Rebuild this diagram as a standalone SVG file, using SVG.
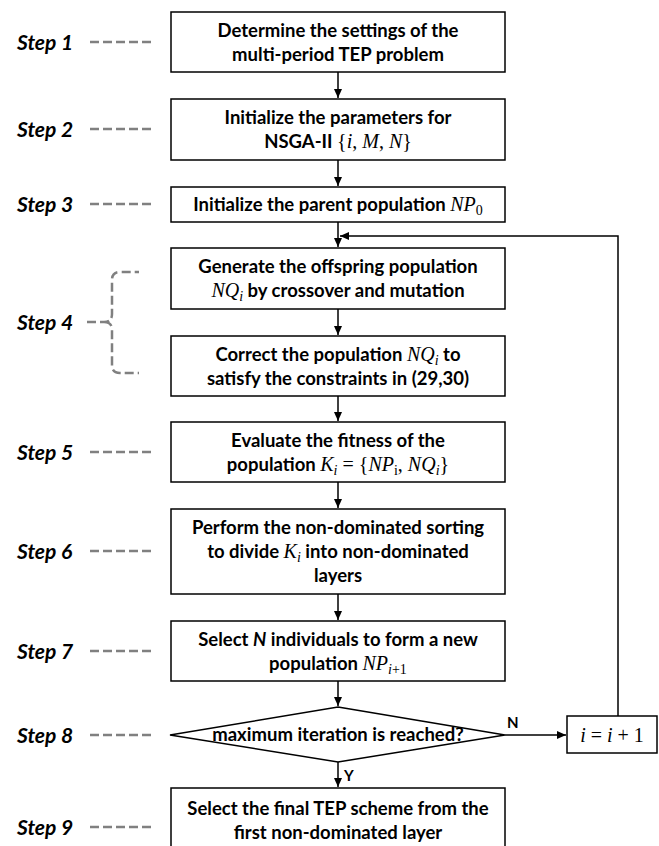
<svg xmlns="http://www.w3.org/2000/svg" width="659" height="846" viewBox="0 0 659 846">
<style>
.box{fill:#fff;stroke:#000;stroke-width:1.5}
.t{font-family:Lato,"Liberation Sans",sans-serif;font-weight:bold;font-size:18.5px;fill:#000;text-anchor:middle}
.m{font-family:"Liberation Serif",serif;font-style:italic;font-weight:normal;font-size:20px}
.r{font-family:"Liberation Serif",serif;font-style:normal;font-weight:normal;font-size:20px}
.s{font-family:"Liberation Serif",serif;font-weight:normal;font-size:14px}
.step{font-family:Lato,"Liberation Sans",sans-serif;font-weight:bold;font-style:italic;font-size:21px;fill:#000}
.dash{fill:none;stroke:#808080;stroke-width:2.5;stroke-dasharray:9 4}
.line{fill:none;stroke:#000;stroke-width:1.5}
.lbl{font-family:Lato,"Liberation Sans",sans-serif;font-weight:bold;font-size:15px;fill:#000}
</style>
<defs>
<marker id="ah" markerWidth="10" markerHeight="10" refX="9" refY="5" orient="auto" markerUnits="userSpaceOnUse">
<path d="M0,1 L9,5 L0,9 Z" fill="#000"/>
</marker>
</defs>

<g id="steps">
<text class="step" x="17" y="50">Step 1</text>
<text class="step" x="17" y="137">Step 2</text>
<text class="step" x="17" y="212">Step 3</text>
<text class="step" x="17" y="330">Step 4</text>
<text class="step" x="17" y="460">Step 5</text>
<text class="step" x="17" y="559">Step 6</text>
<text class="step" x="17" y="659">Step 7</text>
<text class="step" x="17" y="743">Step 8</text>
<text class="step" x="17" y="835">Step 9</text>
<path class="dash" d="M90,42 H155 M90,129 H155 M90,204 H155 M90,452 H155 M90,551 H155 M90,651 H155 M90,735 H155 M90,827 H155"/>
<path class="dash" d="M87,322 H104 Q112,322 112,314 V280 Q112,272 120,272 H139 M104,322 Q112,322 112,330 V365 Q112,373 120,373 H139"/>
</g>

<g id="connectors">
<path class="line" d="M338,72 V98" marker-end="url(#ah)"/>
<path class="line" d="M338,160 V186" marker-end="url(#ah)"/>
<path class="line" d="M338,222 V247" marker-end="url(#ah)"/>
<path class="line" d="M338,309 V335" marker-end="url(#ah)"/>
<path class="line" d="M338,396 V421" marker-end="url(#ah)"/>
<path class="line" d="M338,482 V508" marker-end="url(#ah)"/>
<path class="line" d="M338,594 V620" marker-end="url(#ah)"/>
<path class="line" d="M338,681 V706" marker-end="url(#ah)"/>
<path class="line" d="M338,762 V787" marker-end="url(#ah)"/>
<path class="line" d="M505,735 H566" marker-end="url(#ah)"/>
<path class="line" d="M618,716 V236 H340" marker-end="url(#ah)"/>
<text class="lbl" x="507" y="728">N</text>
<text class="lbl" x="344" y="781">Y</text>
</g>

<g id="n1"><rect class="box" x="171" y="12" width="334" height="60"/>
<text class="t" x="338" y="37">Determine the settings of the</text>
<text class="t" x="338" y="61">multi-period TEP problem</text></g>

<g id="n2"><rect class="box" x="171" y="99" width="334" height="61"/>
<text class="t" x="338" y="124">Initialize the parameters for</text>
<text class="t" x="338" y="148">NSGA-II <tspan class="r">{</tspan><tspan class="m">i</tspan><tspan class="r">, </tspan><tspan class="m">M</tspan><tspan class="r">, </tspan><tspan class="m">N</tspan><tspan class="r">}</tspan></text></g>

<g id="n3"><rect class="box" x="171" y="187" width="334" height="35"/>
<text class="t" x="338" y="211">Initialize the parent population <tspan class="m">NP</tspan><tspan class="s" dy="4">0</tspan></text></g>

<g id="n4a"><rect class="box" x="171" y="248" width="334" height="61"/>
<text class="t" x="338" y="273">Generate the offspring population</text>
<text class="t" x="338" y="297"><tspan class="m">NQ</tspan><tspan class="s" font-style="italic" dy="4">i</tspan><tspan dy="-4"> by crossover and mutation</tspan></text></g>

<g id="n4b"><rect class="box" x="171" y="336" width="334" height="60"/>
<text class="t" x="338" y="361">Correct the population <tspan class="m">NQ</tspan><tspan class="s" font-style="italic" dy="4">i</tspan><tspan dy="-4"> to</tspan></text>
<text class="t" x="338" y="385">satisfy the constraints in (29,30)</text></g>

<g id="n5"><rect class="box" x="171" y="422" width="334" height="60"/>
<text class="t" x="338" y="447">Evaluate the fitness of the</text>
<text class="t" x="338" y="471">population <tspan class="m">K</tspan><tspan class="s" font-style="italic" dy="4">i</tspan><tspan class="r" dy="-4"> = {</tspan><tspan class="m">NP</tspan><tspan class="s" dy="4">i</tspan><tspan class="r" dy="-4">, </tspan><tspan class="m">NQ</tspan><tspan class="s" font-style="italic" dy="4">i</tspan><tspan class="r" dy="-4">}</tspan></text></g>

<g id="n6"><rect class="box" x="171" y="509" width="334" height="85"/>
<text class="t" x="338" y="534">Perform the non-dominated sorting</text>
<text class="t" x="338" y="558">to divide <tspan class="m">K</tspan><tspan class="s" font-style="italic" dy="4">i</tspan><tspan dy="-4"> into non-dominated</tspan></text>
<text class="t" x="338" y="582">layers</text></g>

<g id="n7"><rect class="box" x="171" y="621" width="334" height="60"/>
<text class="t" x="338" y="646">Select <tspan font-style="italic">N</tspan> individuals to form a new</text>
<text class="t" x="338" y="670">population <tspan class="m">NP</tspan><tspan class="s" font-style="italic" dy="4">i</tspan><tspan class="s">+1</tspan></text></g>

<g id="n8"><path class="box" d="M338,707 L505,735 L338,762 L170,735 Z"/>
<text class="t" x="338" y="741">maximum iteration is reached?</text></g>

<g id="n8b"><rect class="box" x="567" y="716" width="90" height="37"/>
<text class="t" x="612" y="742"><tspan class="m" font-size="22">i</tspan><tspan class="r" font-size="22"> = </tspan><tspan class="m" font-size="22">i</tspan><tspan class="r" font-size="22"> + 1</tspan></text></g>

<g id="n9"><rect class="box" x="171" y="788" width="334" height="70"/>
<text class="t" x="338" y="815">Select the final TEP scheme from the</text>
<text class="t" x="338" y="839">first non-dominated layer</text></g>
</svg>
